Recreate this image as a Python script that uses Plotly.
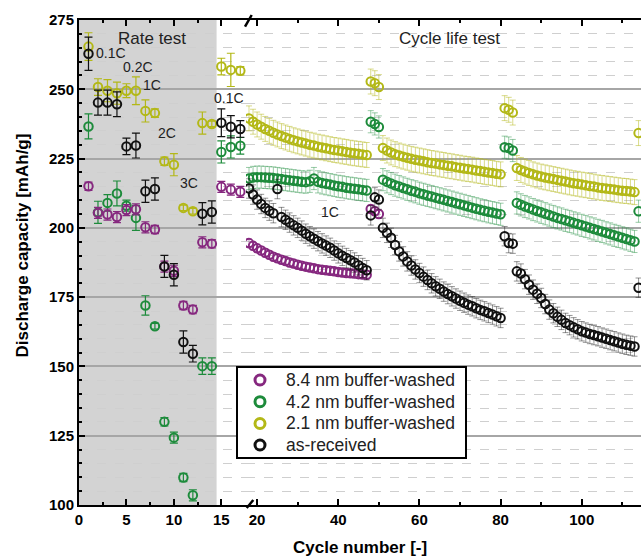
import plotly.graph_objects as go

# ---------------- data ----------------
rate_cycles = [1, 2, 3, 4, 5, 6, 7, 8, 9, 10, 11, 12, 13, 14, 15, 16, 17]

rate_purple = [215.0, 205.4, 204.8, 203.9, 206.4, 206.7, 200.2, 199.4, 186.0, 184.5,
               172.0, 170.5, 194.8, 194.3, 214.8, 213.8, 213.0]
rate_green = [236.6, 205.6, 209.0, 212.4, 208.0, 203.6, 172.0, 164.5, 130.0, 124.3,
              109.9, 103.5, 150.1, 150.1, 227.4, 229.2, 229.6]
rate_yellow = [265.4, 250.8, 249.5, 248.6, 249.5, 249.5, 242.2, 241.4, 224.0, 222.8,
               207.2, 206.0, 237.8, 237.5, 258.2, 257.0, 256.7]
rate_black = [262.8, 245.2, 245.2, 244.6, 229.4, 229.7, 213.2, 214.0, 186.1, 183.1,
              158.8, 154.6, 205.1, 205.7, 237.9, 236.5, 235.7]

rate_err_purple = [1.5, 2, 2, 2, 2, 2, 2, 1.5, 2, 2, 1.5, 1.5, 2, 1.5, 2, 2, 2]
rate_err_green = [4.5, 4, 3, 4.5, 2, 4.5, 3.5, 1, 1.5, 2, 1.5, 2, 3, 3, 4, 4, 3]
rate_err_yellow = [5, 3, 4, 4, 2.5, 5, 4, 1.5, 1.5, 4, 1, 1, 4, 1, 3, 6, 1.5]
rate_err_black = [6, 4.5, 4.5, 4.5, 3, 4.5, 4, 4, 4, 4, 4, 3, 4, 4, 5, 4, 3]

life_cycles = list(range(18, 115))

life_yellow = [
    239.5, 238.3, 237.3, 236.5, 235.7, 235.0, 234.3, 233.7, 233.1, 232.6,
    232.1, 231.6, 231.2, 230.8, 230.4, 230.0, 229.7, 229.3, 229.0, 228.7,
    228.4, 228.1, 227.9, 227.6, 227.4, 227.1, 226.9, 226.7, 226.5, 226.3,
    252.8, 252.2, 250.8,
    228.8, 227.9, 227.2, 226.6, 226.1, 225.7, 225.3, 224.9, 224.6, 224.3,
    224.0, 223.7, 223.4, 223.2, 222.9, 222.7, 222.4, 222.2, 221.9, 221.7,
    221.4, 221.2, 221.0, 220.7, 220.5, 220.2, 220.0, 219.8, 219.5, 219.3,
    243.2, 242.6, 241.6,
    221.6, 220.9, 220.3, 219.8, 219.3, 218.9, 218.5, 218.2, 217.9, 217.6,
    217.3, 217.0, 216.7, 216.4, 216.1, 215.9, 215.6, 215.4, 215.1, 214.9,
    214.6, 214.4, 214.2, 214.0, 213.8, 213.6, 213.4, 213.3, 213.1, 212.9,
    234.2]
life_green = [
    217.8, 218.2, 218.3, 218.3, 218.2, 218.1, 218.0, 217.8, 217.6, 217.4,
    217.2, 217.0, 216.8, 216.6, 216.5, 216.8, 217.8, 216.6, 216.2, 215.9,
    215.6, 215.3, 215.0, 214.8, 214.5, 214.3, 214.1, 213.9, 213.7, 213.5,
    238.3, 237.5, 236.4,
    217.4, 216.6, 216.0, 215.4, 214.9, 214.4, 213.9, 213.4, 213.0, 212.5,
    212.1, 211.7, 211.3, 210.9, 210.5, 210.1, 209.7, 209.3, 208.9, 208.5,
    208.1, 207.7, 207.3, 206.9, 206.5, 206.2, 205.8, 205.5, 205.2, 204.9,
    229.1, 228.8, 227.9,
    209.0, 208.3, 207.7, 207.2, 206.6, 206.1, 205.6, 205.1, 204.6, 204.1,
    203.6, 203.2, 202.7, 202.3, 201.8, 201.4, 200.9, 200.5, 200.0, 199.6,
    199.1, 198.7, 198.2, 197.8, 197.3, 196.9, 196.4, 196.0, 195.5, 195.1,
    206.0]
life_black = [
    214.2, 212.0, 210.2, 208.6, 207.2, 206.2, 205.3, 214.0, 203.9, 202.9,
    201.9, 200.9, 200.0, 199.0, 197.9, 197.0, 196.1, 195.2, 194.4, 193.6,
    192.8, 191.8, 190.8, 189.9, 189.1, 188.3, 187.5, 186.5, 185.5, 184.7,
    204.5, 211.0, 210.2,
    200.0, 198.2, 196.4, 193.8, 191.5, 189.7, 187.9, 186.4, 185.0, 183.7,
    182.4, 181.2, 180.0, 178.9, 178.0, 177.0, 176.1, 175.3, 174.5, 173.7,
    173.0, 172.3, 171.7, 171.0, 170.4, 169.9, 169.3, 168.7, 168.1, 167.5,
    197.0, 194.5, 194.3,
    184.3, 183.5, 181.5, 179.5, 177.7, 176.2, 174.7, 172.5, 170.5, 169.2,
    167.9, 166.8, 165.7, 164.9, 164.1, 163.4, 162.7, 162.2, 161.7, 161.3,
    160.9, 160.4, 160.0, 159.5, 159.1, 158.6, 158.2, 157.8, 157.5, 157.2,
    178.4]
life_purple = [
    194.5, 193.5, 192.6, 191.8, 191.0, 190.3, 189.6, 189.0, 188.5, 188.0,
    187.5, 187.1, 186.7, 186.3, 186.0, 185.7, 185.4, 185.1, 184.9, 184.7,
    184.5, 184.3, 184.1, 183.9, 183.7, 183.6, 183.5, 183.3, 183.2, 183.1,
    206.8, 206.0, 205.0]

life_err = {"yellow": 4.5, "green": 4.0, "black": 3.5, "purple": 1.5}

names = {"purple": "8.4 nm buffer-washed", "green": "4.2 nm buffer-washed",
         "yellow": "2.1 nm buffer-washed", "black": "as-received"}
legend_order = ["purple", "green", "yellow", "black"]

y_ticks = [100, 125, 150, 175, 200, 225, 250, 275]
x_ticks_left = [0, 5, 10, 15]
x_ticks_right = [20, 40, 60, 80, 100]

# ---------------- style ----------------
COL = {"purple": "#86287F", "green": "#1D8B3B", "yellow": "#B3B817", "black": "#111111"}
ERRCOL = {"purple": "rgba(134,40,127,0.5)", "green": "rgba(29,139,59,0.45)",
          "yellow": "rgba(179,184,23,0.5)", "black": "rgba(17,17,17,0.45)"}

rate = {"purple": (rate_purple, rate_err_purple), "green": (rate_green, rate_err_green),
        "yellow": (rate_yellow, rate_err_yellow), "black": (rate_black, rate_err_black)}
life = {"purple": life_purple, "green": life_green, "yellow": life_yellow, "black": life_black}

fig = go.Figure()
for key in ["yellow", "green", "purple", "black"]:
    vals, errs = rate[key]
    fig.add_trace(go.Scatter(
        x=rate_cycles, y=vals, mode="markers", xaxis="x", yaxis="y", showlegend=False,
        name=names[key],
        marker=dict(symbol="circle-open", size=8.5, color=COL[key], line=dict(width=2, color=COL[key])),
        error_y=dict(type="data", array=errs, visible=True, color=COL[key], thickness=1.2, width=4)))
    lv = life[key]
    fig.add_trace(go.Scatter(
        x=life_cycles[:len(lv)], y=lv, mode="markers", xaxis="x2", yaxis="y", showlegend=False,
        name=names[key],
        marker=dict(symbol="circle-open", size=8.5, color=COL[key], line=dict(width=2, color=COL[key])),
        error_y=dict(type="constant", value=life_err[key], visible=True, color=ERRCOL[key],
                     thickness=1, width=3)))

W, H = 641, 558
D = (246 - 79) / 562.0
tickfont = dict(size=15, weight="bold", color="black")
axis_common = dict(ticks="inside", ticklen=6, tickwidth=2, tickcolor="black",
                   showline=True, linecolor="black", linewidth=2, zeroline=False,
                   tickfont=tickfont)

def px_x(p):
    return (p - 79) / 562.0

def px_y(p):
    return (505 - p) / 485.0

shapes = [
    dict(type="rect", xref="x", yref="y", x0=0, x1=14.5, y0=100, y1=275,
         fillcolor="#D3D3D3", line=dict(width=0), layer="below"),
    dict(type="line", xref="paper", yref="paper", x0=px_x(246.7), y0=px_y(508), x1=px_x(253.3), y1=px_y(500),
         line=dict(color="black", width=2.5)),
    dict(type="line", xref="paper", yref="paper", x0=px_x(245), y0=px_y(26.7), x1=px_x(251.7), y1=px_y(15),
         line=dict(color="black", width=2.5)),
    # legend box
    dict(type="rect", xref="paper", yref="paper", x0=px_x(237), x1=px_x(466), y0=px_y(458), y1=px_y(367),
         fillcolor="white", line=dict(color="black", width=2)),
]

ann = []
legend_rows = [380, 401.7, 423.5, 445]
for key, row in zip(legend_order, legend_rows):
    shapes.append(dict(type="circle", xref="paper", yref="paper",
                       xsizemode="pixel", ysizemode="pixel",
                       xanchor=px_x(260), yanchor=px_y(row), x0=-5, x1=5, y0=-5, y1=5,
                       line=dict(color=COL[key], width=3), fillcolor="rgba(0,0,0,0)"))
    ann.append(dict(text=names[key], xref="paper", yref="paper", x=px_x(284), y=px_y(row),
                    showarrow=False, xanchor="left", yanchor="middle",
                    font=dict(size=17.5, color="#222222")))

fig.update_layout(
    width=W, height=H,
    margin=dict(l=79, r=0, t=20, b=53),
    plot_bgcolor="white", paper_bgcolor="white",
    showlegend=False,
    font=dict(family="Liberation Sans, Arial, sans-serif", color="black"),
    xaxis=dict(domain=[0, D], range=[0, 17.6], tickvals=x_ticks_left, mirror="ticks",
               showgrid=False, anchor="y",
               minor=dict(tickvals=[2.5, 7.5, 12.5], ticks="inside", ticklen=3, tickwidth=2,
                          tickcolor="black", showgrid=False),
               **axis_common),
    xaxis2=dict(domain=[D, 1], range=[17.26, 114.6], tickvals=x_ticks_right, mirror="ticks",
                showgrid=False, anchor="y",
                minor=dict(tickvals=[30, 50, 70, 90, 110], ticks="inside", ticklen=3, tickwidth=2,
                           tickcolor="black", showgrid=False),
                **axis_common),
    yaxis=dict(range=[100, 275], tickvals=y_ticks, anchor="x",
               showgrid=True, gridcolor="#A6A6A6", gridwidth=1.5,
               minor=dict(dtick=5, tick0=0, ticks="inside", ticklen=3, tickwidth=2,
                          tickcolor="black", showgrid=True, gridcolor="#CFCFCF",
                          griddash="dash", gridwidth=1),
               **axis_common),
    shapes=shapes,
)

def txt(text, x, y, xref="x", size=14):
    ann.append(dict(text=text, x=x, y=y, xref=xref, yref="y", showarrow=False,
                    font=dict(size=size, color="#222222"), xanchor="center", yanchor="middle"))

txt("Rate test", 7.69, 268.4, size=17)
txt("0.1C", 3.37, 263.1)
txt("0.2C", 6.27, 258.0)
txt("1C", 7.66, 251.5)
txt("2C", 9.24, 234.3)
txt("3C", 11.64, 216.3)
txt("0.1C", 15.83, 247.0)
txt("Cycle life test", 67.3, 268.4, xref="x2", size=17)
txt("1C", 37.96, 205.8, xref="x2")

ann.append(dict(text="Discharge capacity [mAh/g]", xref="paper", yref="paper", x=px_x(21.5), y=px_y(246),
                textangle=-90, showarrow=False, xanchor="center", yanchor="middle",
                font=dict(size=17, weight="bold", color="black")))
ann.append(dict(text="Cycle number [-]", xref="paper", yref="paper", x=0.5, y=px_y(547),
                showarrow=False, xanchor="center", yanchor="middle",
                font=dict(size=17, weight="bold", color="black")))
fig.update_layout(annotations=ann)

fig.write_html(
    "out.html",
    config={"displayModeBar": False},
    post_script=("document.documentElement.style.overflow='hidden';"
                 "document.body.style.overflow='hidden';"
                 "document.body.style.margin='0';"),
)
